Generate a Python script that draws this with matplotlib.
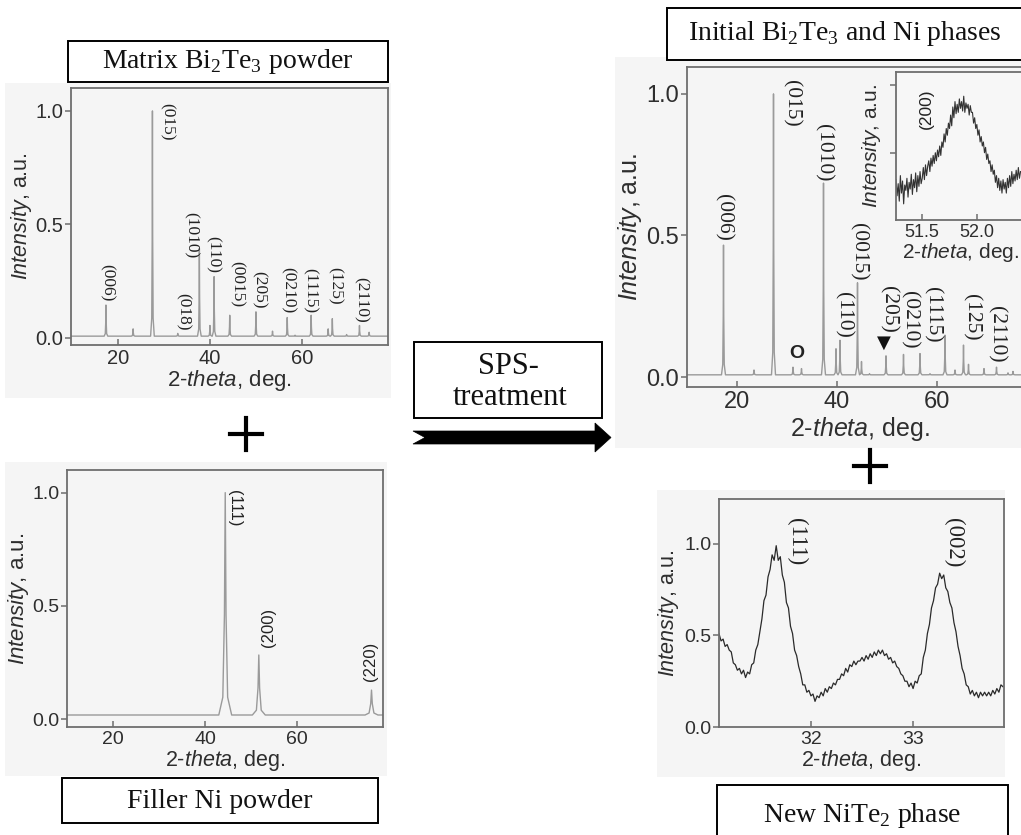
import numpy as np
import matplotlib.pyplot as plt
from matplotlib.patches import Rectangle, Polygon
from matplotlib.lines import Line2D

plt.rcParams['font.family'] = ['Liberation Sans', 'DejaVu Sans']
plt.rcParams['mathtext.fontset'] = 'custom'
plt.rcParams['mathtext.rm'] = 'Liberation Serif'
plt.rcParams['mathtext.it'] = 'Liberation Sans:italic'

# --- Bi2Te3 matrix powder: peak positions (2-theta) and relative intensities
bt_pos = [17.4, 23.3, 27.5, 33.0, 37.7, 40.0, 40.9, 44.3, 50.0, 53.6, 56.8,
          58.5, 62.0, 65.7, 66.6, 69.7, 72.5, 74.6]
bt_int = [0.145, 0.04, 1.0, 0.02, 0.395, 0.055, 0.27, 0.10, 0.115, 0.03, 0.09,
          0.012, 0.10, 0.04, 0.085, 0.015, 0.055, 0.025]
bt_base = 0.008
bt_labels = ['(006)', '(015)', '(018)', '(1010)', '(110)', '(0015)', '(205)',
             '(0210)', '(1115)', '(125)', '(2110)']
bt_lab_x = [17.6, 30.6, 34.1, 35.8, 40.7, 45.8, 50.7, 57.0, 61.7, 67.2, 72.8]
bt_lab_y = [0.16, 0.87, 0.035, 0.35, 0.285, 0.135, 0.13, 0.11, 0.11, 0.145, 0.065]

# --- Ni filler powder
ni_pos = [44.4, 51.7, 76.2]
ni_int = [1.0, 0.283, 0.128]
ni_base = 0.018
ni_labels = ['(111)', '(200)', '(220)']
ni_lab_x = [46.5, 53.8, 75.9]
ni_lab_y = [0.85, 0.32, 0.17]

# --- after SPS: Bi2Te3 + Ni
mix_pos = [17.3, 23.4, 27.3, 31.2, 32.9, 37.3, 39.8, 40.6, 44.1, 44.9, 46.5,
           49.8, 53.3, 56.6, 58.6, 61.6, 63.6, 65.3, 66.3, 69.4, 71.9, 74.2, 75.2]
mix_int = [0.466, 0.025, 1.0, 0.035, 0.03, 0.685, 0.10, 0.13, 0.333, 0.055, 0.012,
           0.075, 0.08, 0.083, 0.012, 0.148, 0.025, 0.113, 0.045, 0.03, 0.035,
           0.015, 0.02]
mix_base = 0.008
mix_labels = ['(006)', '(015)', '(1010)', '(110)', '(0015)', '(205)', '(0210)',
              '(1115)', '(125)', '(2110)']
mix_lab_x = [17.3, 30.9, 37.3, 41.3, 44.3, 50.2, 54.5, 59.1, 66.9, 71.9]
mix_lab_y = [0.48, 0.885, 0.69, 0.14, 0.34, 0.155, 0.10, 0.12, 0.13, 0.05]

# --- inset: Ni (200) after SPS
ins_x = np.round(np.arange(51.26, 52.405, 0.01), 2)
ins_y = [0.30, 0.18, 0.27, 0.14, 0.33, 0.20, 0.29, 0.12, 0.26, 0.22,
         0.31, 0.17, 0.28, 0.23, 0.34, 0.19, 0.30, 0.24, 0.35, 0.21,
         0.33, 0.25, 0.36, 0.27, 0.31, 0.39, 0.30, 0.41, 0.33, 0.40,
         0.44, 0.36, 0.46, 0.40, 0.48, 0.42, 0.50, 0.44, 0.52, 0.47,
         0.55, 0.48, 0.58, 0.54, 0.64, 0.58, 0.68, 0.63, 0.72, 0.68,
         0.78, 0.70, 0.84, 0.76, 0.88, 0.79, 0.86, 0.80, 0.90, 0.83,
         0.88, 0.81, 0.92, 0.80, 0.87, 0.83, 0.86, 0.78, 0.85, 0.80,
         0.80, 0.72, 0.76, 0.68, 0.71, 0.63, 0.67, 0.58, 0.62, 0.55,
         0.58, 0.50, 0.54, 0.45, 0.49, 0.42, 0.44, 0.36, 0.41, 0.34,
         0.37, 0.28, 0.33, 0.24, 0.31, 0.22, 0.29, 0.20, 0.30, 0.23,
         0.28, 0.20, 0.31, 0.24, 0.33, 0.25, 0.36, 0.27, 0.34, 0.29,
         0.37, 0.30, 0.39, 0.31, 0.36]

# --- new NiTe2 phase scan
nite_x = np.round(np.arange(31.10, 33.885, 0.02), 2)
nite_y = [0.51, 0.47, 0.48, 0.44, 0.45, 0.42, 0.41, 0.35, 0.34, 0.31,
          0.32, 0.29, 0.31, 0.27, 0.30, 0.29, 0.34, 0.35, 0.42, 0.45,
          0.52, 0.59, 0.69, 0.72, 0.82, 0.86, 0.94, 0.91, 0.99, 0.91,
          0.93, 0.83, 0.79, 0.68, 0.65, 0.55, 0.51, 0.42, 0.39, 0.33,
          0.29, 0.23, 0.23, 0.19, 0.20, 0.17, 0.18, 0.14, 0.17, 0.16,
          0.19, 0.17, 0.21, 0.19, 0.22, 0.21, 0.24, 0.23, 0.26, 0.26,
          0.29, 0.28, 0.32, 0.30, 0.34, 0.33, 0.36, 0.34, 0.36, 0.36,
          0.38, 0.36, 0.39, 0.37, 0.40, 0.38, 0.41, 0.39, 0.42, 0.40,
          0.42, 0.39, 0.40, 0.37, 0.38, 0.35, 0.36, 0.33, 0.32, 0.29,
          0.28, 0.25, 0.25, 0.22, 0.24, 0.21, 0.25, 0.24, 0.28, 0.29,
          0.38, 0.42, 0.51, 0.56, 0.65, 0.69, 0.76, 0.78, 0.84, 0.81,
          0.83, 0.76, 0.74, 0.68, 0.65, 0.57, 0.52, 0.44, 0.39, 0.32,
          0.29, 0.23, 0.22, 0.18, 0.20, 0.17, 0.19, 0.16, 0.19, 0.17,
          0.19, 0.17, 0.19, 0.17, 0.20, 0.18, 0.21, 0.19, 0.23, 0.22]
nite_labels = ['(111)', '(002)']
nite_lab_x = [31.86, 33.40]
nite_lab_y = [0.885, 0.87]

W, H = 1021, 835
fig = plt.figure(figsize=(W / 100, H / 100), dpi=100)

FRAME = '#6e6e6e'
PANEL = '#f5f5f5'
TXT = '#2e2e2e'


def fx(x):
    return x / W


def fy(y):
    return 1 - y / H


def add_ax(l, t, r, b):
    return fig.add_axes([fx(l), fy(b), (r - l) / W, (b - t) / H])


def gray_panel(l, t, r, b):
    fig.add_artist(Rectangle((fx(l), fy(b)), (r - l) / W, (b - t) / H,
                             transform=fig.transFigure, facecolor=PANEL,
                             edgecolor='none', zorder=-5))


def title_box(l, t, r, b, lines, size=20):
    fig.add_artist(Rectangle((fx(l), fy(b)), (r - l) / W, (b - t) / H,
                             transform=fig.transFigure, facecolor='white',
                             edgecolor='black', lw=1.4, zorder=5))
    for (cx, cy, s) in lines:
        fig.text(fx(cx), fy(cy), s, ha='center', va='center', fontsize=size,
                 family='Liberation Serif', color='#111111', zorder=6)


def spikes(pos, hgt, base, w, lo, hi):
    # narrow peak profile drawn around each listed reflection
    offs = [-4, -1.5, -0.5, 0, 0.5, 1.5, 4]
    frac = [0, 0.08, 0.45, 1, 0.45, 0.08, 0]
    xs, ys = [lo], [base]
    for p, h in zip(pos, hgt):
        for o, f in zip(offs, frac):
            xs.append(p + o * w)
            ys.append(base + f * (h - base))
    xs.append(hi)
    ys.append(base)
    return xs, ys


def style(ax, fs):
    ax.set_facecolor('none')
    for s in ax.spines.values():
        s.set_color(FRAME)
        s.set_linewidth(1.3)
    ax.tick_params(axis='y', direction='out', length=4, width=1.1, color=FRAME,
                   labelsize=fs, pad=1.5, labelcolor=TXT)
    ax.tick_params(axis='x', direction='in', length=4, width=1.1, color=FRAME,
                   labelsize=fs, pad=3, labelcolor=TXT)


YLAB = r'$\mathit{Intensity}$, a.u.'
XLAB = r'2-$\mathit{theta}$, deg.'

# ---------- panel 1: matrix Bi2Te3
gray_panel(5, 83, 391, 398)
ax1 = add_ax(71, 88, 388, 345)
style(ax1, 14.5)
x, y = spikes(bt_pos, bt_int, bt_base, 0.1, 9.8, 78.7)
ax1.plot(x, y, color='#9a9a9a', lw=1.0)
ax1.set_xlim(9.8, 78.7)
ax1.set_ylim(-0.031, 1.101)
ax1.set_xticks([20, 40, 60])
ax1.set_yticks([0.0, 0.5, 1.0])
ax1.set_yticklabels(['0.0', '0.5', '1.0'])
ax1.set_ylabel(YLAB, fontsize=15.5, color=TXT, labelpad=1)
ax1.set_xlabel(XLAB, fontsize=16, color=TXT, labelpad=0)
for s, lx, ly in zip(bt_labels, bt_lab_x, bt_lab_y):
    ax1.text(lx, ly, s, rotation=-90, ha='center', va='bottom', fontsize=12.5,
             family='Liberation Serif', color='#222222')
title_box(68, 41, 388, 82, [(228, 62, r'Matrix Bi$_2$Te$_3$ powder')])

# ---------- panel 2: Ni filler
gray_panel(5, 462, 387, 776)
ax2 = add_ax(67, 470, 383, 727)
style(ax2, 14)
x, y = spikes(ni_pos, ni_int, ni_base, 0.35, 10, 78.7)
ax2.plot(x, y, color='#9a9a9a', lw=1.0)
ax2.set_xlim(10, 78.7)
ax2.set_ylim(-0.035, 1.10)
ax2.set_xticks([20, 40, 60])
ax2.set_yticks([0.0, 0.5, 1.0])
ax2.set_yticklabels(['0.0', '0.5', '1.0'])
ax2.set_ylabel(YLAB, fontsize=16, color=TXT, labelpad=1)
ax2.set_xlabel(XLAB, fontsize=15.5, color=TXT, labelpad=0)
for s, lx, ly, rot in zip(ni_labels, ni_lab_x, ni_lab_y, [-90, 90, 90]):
    ax2.text(lx, ly, s, rotation=rot, ha='center', va='bottom', fontsize=12,
             color='#222222')
title_box(62, 778, 378, 823, [(220, 801, 'Filler Ni powder')])

# ---------- panel 3: after SPS
gray_panel(615, 57, 1021, 448)
ax3 = add_ax(687, 67, 1032, 387)
style(ax3, 17)
x, y = spikes(mix_pos, mix_int, mix_base, 0.1, 10, 79)
ax3.plot(x, y, color='#9a9a9a', lw=1.0)
ax3.set_xlim(10, 79)
ax3.set_ylim(-0.035, 1.095)
ax3.set_xticks([20, 40, 60])
ax3.set_yticks([0.0, 0.5, 1.0])
ax3.set_yticklabels(['0.0', '0.5', '1.0'])
ax3.set_ylabel(YLAB, fontsize=18, color=TXT, labelpad=2)
ax3.set_xlabel(XLAB, fontsize=18, color=TXT, labelpad=1)
for s, lx, ly in zip(mix_labels, mix_lab_x, mix_lab_y):
    ax3.text(lx, ly, s, rotation=-90, ha='center', va='bottom', fontsize=15.5,
             family='Liberation Serif', color='#222222')
ax3.text(31.9, 0.085, 'O', ha='center', va='center', fontsize=14,
         fontweight='bold', color='#222222')
ax3.text(49.4, 0.12, '\u25bc', ha='center', va='center', fontsize=13,
         family='DejaVu Sans', color='#111111')
title_box(667, 8, 1030, 60, [(845, 34, r'Initial Bi$_2$Te$_3$ and Ni phases')])

# inset
axi = add_ax(896, 72, 1026, 220)
style(axi, 13)
axi.set_facecolor('#f7f7f7')
axi.plot(ins_x, ins_y, color='#333333', lw=0.8)
axi.set_xlim(51.26, 52.45)
axi.set_ylim(0, 1.1)
axi.set_xticks([51.5, 52.0])
axi.set_xticklabels(['51.5', '52.0'])
axi.set_yticks([0.5, 1.0])
axi.set_yticklabels([])
axi.set_ylabel(YLAB, fontsize=15, color=TXT, labelpad=4)
axi.set_xlabel(XLAB, fontsize=15, color=TXT, labelpad=0)
axi.text(51.54, 0.83, '(200)', rotation=90, ha='center', va='center',
         fontsize=12.5, color='#222222')

# ---------- panel 4: new NiTe2 phase
gray_panel(657, 490, 1005, 777)
ax4 = add_ax(719, 499, 1004, 727)
style(ax4, 14)
ax4.plot(nite_x, nite_y, color='#2a2a2a', lw=0.9)
ax4.set_xlim(31.1, 33.89)
ax4.set_ylim(0, 1.245)
ax4.set_xticks([32, 33])
ax4.set_yticks([0.0, 0.5, 1.0])
ax4.set_yticklabels(['0.0', '0.5', '1.0'])
ax4.set_ylabel(YLAB, fontsize=15.5, color=TXT, labelpad=2)
ax4.set_xlabel(XLAB, fontsize=15.5, color=TXT, labelpad=0)
for s, lx, ly in zip(nite_labels, nite_lab_x, nite_lab_y):
    ax4.text(lx, ly, s, rotation=-90, ha='center', va='bottom', fontsize=16.5,
             family='Liberation Serif', color='#222222')
title_box(717, 785, 1008, 845, [(862, 815, r'New NiTe$_2$ phase')])

# ---------- SPS box and arrow
title_box(414, 342, 602, 418, [(508, 366, 'SPS-'), (510, 398, 'treatment')],
          size=22)
arrow = [(413, 431), (595, 431), (595, 423), (611, 437.5), (595, 452),
         (595, 444), (413, 444), (425, 437.5)]
fig.add_artist(Polygon([(fx(a), fy(b)) for a, b in arrow], closed=True,
                       transform=fig.transFigure, facecolor='black',
                       edgecolor='black', lw=0.5))

# plus signs
for cx, cy in [(246, 434), (870, 466)]:
    fig.add_artist(Line2D([fx(cx - 16), fx(cx + 16)], [fy(cy), fy(cy)],
                          transform=fig.transFigure, color='black', lw=3))
    fig.add_artist(Line2D([fx(cx), fx(cx)], [fy(cy - 16), fy(cy + 16)],
                          transform=fig.transFigure, color='black', lw=3))

fig.savefig('out.png', dpi=100)
